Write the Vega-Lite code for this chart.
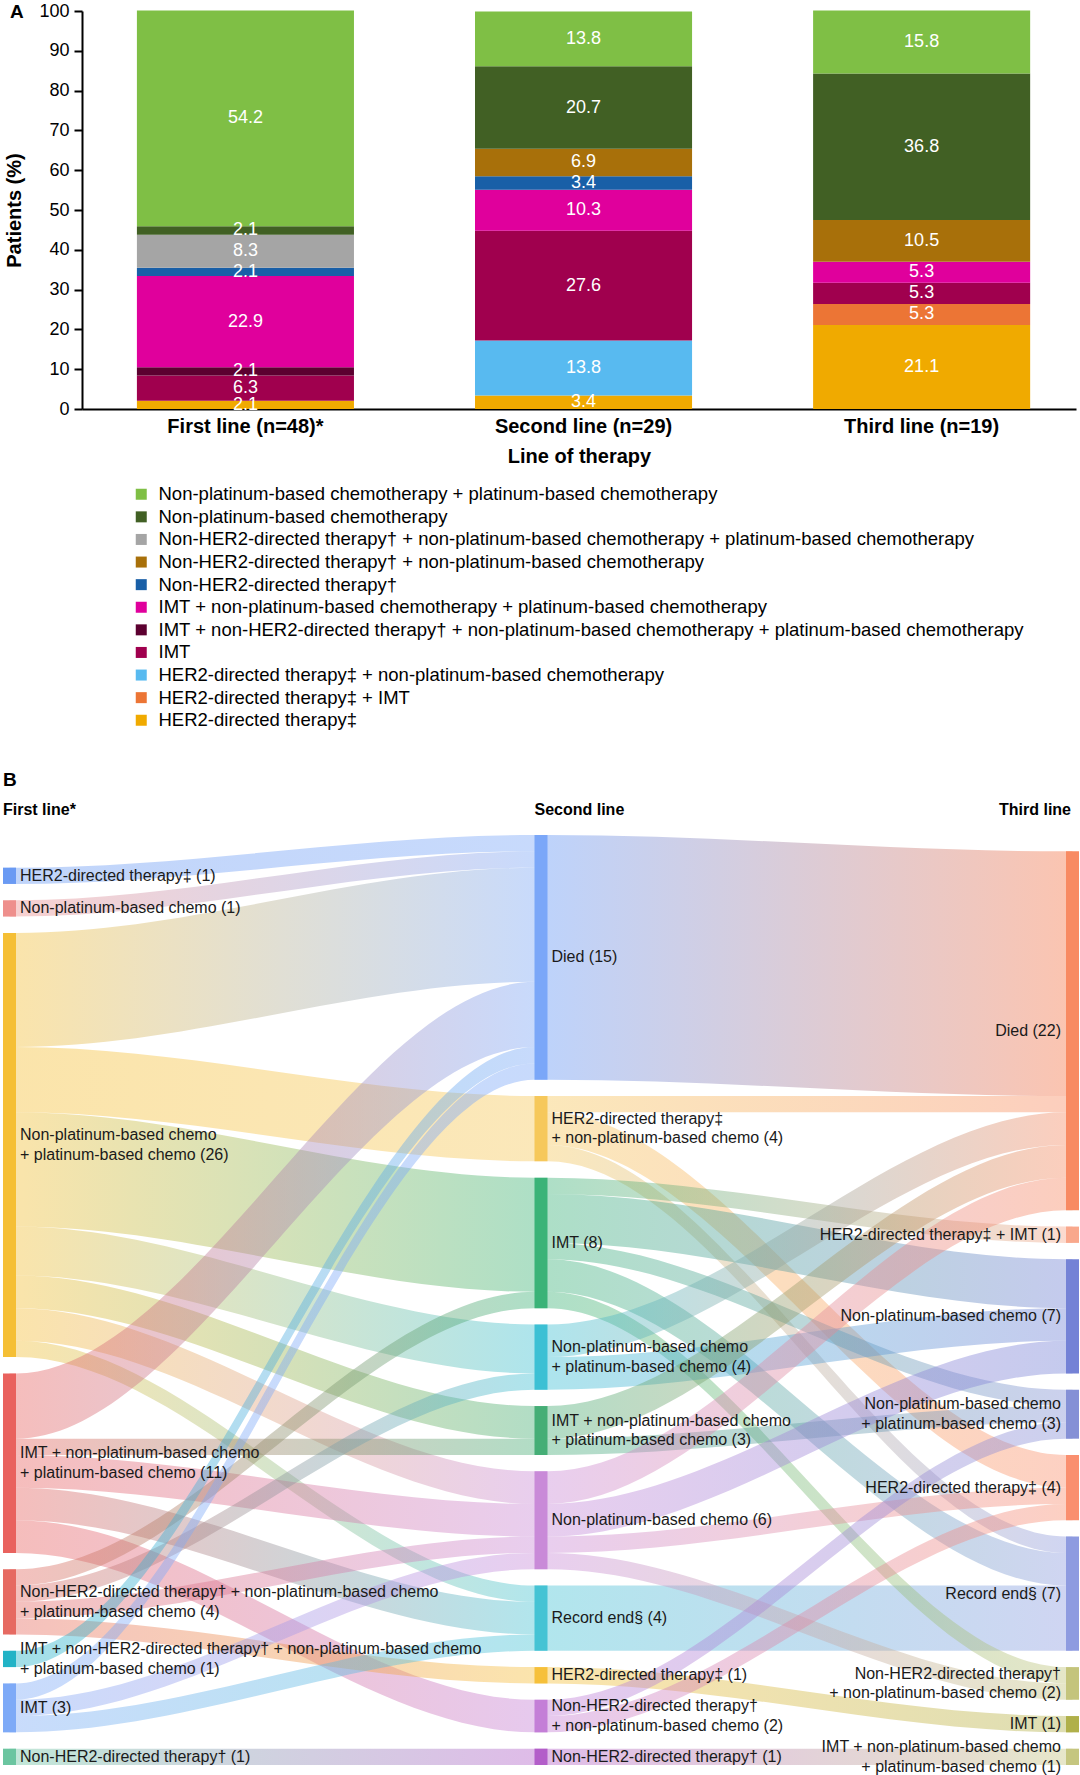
{
"$schema":"https://vega.github.io/schema/vega-lite/v6.json",
"padding":{"left":2,"top":2,"right":0,"bottom":0},
"background":"white",
"config":{"view":{"stroke":null},"font":"Liberation Sans"},
"spacing":40,
"resolve":{"scale":{"color":"independent","x":"independent","y":"independent"}},
"datasets":{
"bars":[
{"line":"First line (n=48)*","cat":"HER2-directed therapy‡","pct":2.1,"ord":11},
{"line":"First line (n=48)*","cat":"IMT","pct":6.3,"ord":8},
{"line":"First line (n=48)*","cat":"IMT + non-HER2-directed therapy† + non-platinum-based chemotherapy + platinum-based chemotherapy","pct":2.1,"ord":7},
{"line":"First line (n=48)*","cat":"IMT + non-platinum-based chemotherapy + platinum-based chemotherapy","pct":22.9,"ord":6},
{"line":"First line (n=48)*","cat":"Non-HER2-directed therapy†","pct":2.1,"ord":5},
{"line":"First line (n=48)*","cat":"Non-HER2-directed therapy† + non-platinum-based chemotherapy + platinum-based chemotherapy","pct":8.3,"ord":3},
{"line":"First line (n=48)*","cat":"Non-platinum-based chemotherapy","pct":2.1,"ord":2},
{"line":"First line (n=48)*","cat":"Non-platinum-based chemotherapy + platinum-based chemotherapy","pct":54.2,"ord":1},
{"line":"Second line (n=29)","cat":"HER2-directed therapy‡","pct":3.4,"ord":11},
{"line":"Second line (n=29)","cat":"HER2-directed therapy‡ + non-platinum-based chemotherapy","pct":13.8,"ord":9},
{"line":"Second line (n=29)","cat":"IMT","pct":27.6,"ord":8},
{"line":"Second line (n=29)","cat":"IMT + non-platinum-based chemotherapy + platinum-based chemotherapy","pct":10.3,"ord":6},
{"line":"Second line (n=29)","cat":"Non-HER2-directed therapy†","pct":3.4,"ord":5},
{"line":"Second line (n=29)","cat":"Non-HER2-directed therapy† + non-platinum-based chemotherapy","pct":6.9,"ord":4},
{"line":"Second line (n=29)","cat":"Non-platinum-based chemotherapy","pct":20.7,"ord":2},
{"line":"Second line (n=29)","cat":"Non-platinum-based chemotherapy + platinum-based chemotherapy","pct":13.8,"ord":1},
{"line":"Third line (n=19)","cat":"HER2-directed therapy‡","pct":21.1,"ord":11},
{"line":"Third line (n=19)","cat":"HER2-directed therapy‡ + IMT","pct":5.3,"ord":10},
{"line":"Third line (n=19)","cat":"IMT","pct":5.3,"ord":8},
{"line":"Third line (n=19)","cat":"IMT + non-platinum-based chemotherapy + platinum-based chemotherapy","pct":5.3,"ord":6},
{"line":"Third line (n=19)","cat":"Non-HER2-directed therapy† + non-platinum-based chemotherapy","pct":10.5,"ord":4},
{"line":"Third line (n=19)","cat":"Non-platinum-based chemotherapy","pct":36.8,"ord":2},
{"line":"Third line (n=19)","cat":"Non-platinum-based chemotherapy + platinum-based chemotherapy","pct":15.8,"ord":1}
],
"nodes":[
{"stage":0,"node":"pad","n":2,"ord":0,"l0":"","l1":"","l2":""},
{"stage":0,"node":"A1","n":1,"ord":1,"l0":"HER2-directed therapy‡ (1)","l1":"","l2":""},
{"stage":0,"node":"gap","n":1,"ord":2,"l0":"","l1":"","l2":""},
{"stage":0,"node":"A2","n":1,"ord":3,"l0":"Non-platinum-based chemo (1)","l1":"","l2":""},
{"stage":0,"node":"gap","n":1,"ord":4,"l0":"","l1":"","l2":""},
{"stage":0,"node":"A3","n":26,"ord":5,"l0":"","l1":"Non-platinum-based chemo","l2":"+ platinum-based chemo (26)"},
{"stage":0,"node":"gap","n":1,"ord":6,"l0":"","l1":"","l2":""},
{"stage":0,"node":"A4","n":11,"ord":7,"l0":"","l1":"IMT + non-platinum-based chemo","l2":"+ platinum-based chemo (11)"},
{"stage":0,"node":"gap","n":1,"ord":8,"l0":"","l1":"","l2":""},
{"stage":0,"node":"A5","n":4,"ord":9,"l0":"","l1":"Non-HER2-directed therapy† + non-platinum-based chemo","l2":"+ platinum-based chemo (4)"},
{"stage":0,"node":"gap","n":1,"ord":10,"l0":"","l1":"","l2":""},
{"stage":0,"node":"A6","n":1,"ord":11,"l0":"","l1":"IMT + non-HER2-directed therapy† + non-platinum-based chemo","l2":"+ platinum-based chemo (1)"},
{"stage":0,"node":"gap","n":1,"ord":12,"l0":"","l1":"","l2":""},
{"stage":0,"node":"A7","n":3,"ord":13,"l0":"IMT (3)","l1":"","l2":""},
{"stage":0,"node":"gap","n":1,"ord":14,"l0":"","l1":"","l2":""},
{"stage":0,"node":"A8","n":1,"ord":15,"l0":"Non-HER2-directed therapy† (1)","l1":"","l2":""},
{"stage":1,"node":"B1","n":15,"ord":1,"l0":"Died (15)","l1":"","l2":""},
{"stage":1,"node":"gap","n":1,"ord":2,"l0":"","l1":"","l2":""},
{"stage":1,"node":"B2","n":4,"ord":3,"l0":"","l1":"HER2-directed therapy‡","l2":"+ non-platinum-based chemo (4)"},
{"stage":1,"node":"gap","n":1,"ord":4,"l0":"","l1":"","l2":""},
{"stage":1,"node":"B3","n":8,"ord":5,"l0":"IMT (8)","l1":"","l2":""},
{"stage":1,"node":"gap","n":1,"ord":6,"l0":"","l1":"","l2":""},
{"stage":1,"node":"B4","n":4,"ord":7,"l0":"","l1":"Non-platinum-based chemo","l2":"+ platinum-based chemo (4)"},
{"stage":1,"node":"gap","n":1,"ord":8,"l0":"","l1":"","l2":""},
{"stage":1,"node":"B5","n":3,"ord":9,"l0":"","l1":"IMT + non-platinum-based chemo","l2":"+ platinum-based chemo (3)"},
{"stage":1,"node":"gap","n":1,"ord":10,"l0":"","l1":"","l2":""},
{"stage":1,"node":"B6","n":6,"ord":11,"l0":"Non-platinum-based chemo (6)","l1":"","l2":""},
{"stage":1,"node":"gap","n":1,"ord":12,"l0":"","l1":"","l2":""},
{"stage":1,"node":"B7","n":4,"ord":13,"l0":"Record end§ (4)","l1":"","l2":""},
{"stage":1,"node":"gap","n":1,"ord":14,"l0":"","l1":"","l2":""},
{"stage":1,"node":"B8","n":1,"ord":15,"l0":"HER2-directed therapy‡ (1)","l1":"","l2":""},
{"stage":1,"node":"gap","n":1,"ord":16,"l0":"","l1":"","l2":""},
{"stage":1,"node":"B9","n":2,"ord":17,"l0":"","l1":"Non-HER2-directed therapy†","l2":"+ non-platinum-based chemo (2)"},
{"stage":1,"node":"gap","n":1,"ord":18,"l0":"","l1":"","l2":""},
{"stage":1,"node":"B10","n":1,"ord":19,"l0":"Non-HER2-directed therapy† (1)","l1":"","l2":""},
{"stage":2,"node":"pad","n":1,"ord":0,"l0":"","l1":"","l2":""},
{"stage":2,"node":"C1","n":22,"ord":1,"l0":"Died (22)","l1":"","l2":""},
{"stage":2,"node":"gap","n":1,"ord":2,"l0":"","l1":"","l2":""},
{"stage":2,"node":"C2","n":1,"ord":3,"l0":"HER2-directed therapy‡ + IMT (1)","l1":"","l2":""},
{"stage":2,"node":"gap","n":1,"ord":4,"l0":"","l1":"","l2":""},
{"stage":2,"node":"C3","n":7,"ord":5,"l0":"Non-platinum-based chemo (7)","l1":"","l2":""},
{"stage":2,"node":"gap","n":1,"ord":6,"l0":"","l1":"","l2":""},
{"stage":2,"node":"C4","n":3,"ord":7,"l0":"","l1":"Non-platinum-based chemo","l2":"+ platinum-based chemo (3)"},
{"stage":2,"node":"gap","n":1,"ord":8,"l0":"","l1":"","l2":""},
{"stage":2,"node":"C5","n":4,"ord":9,"l0":"HER2-directed therapy‡ (4)","l1":"","l2":""},
{"stage":2,"node":"gap","n":1,"ord":10,"l0":"","l1":"","l2":""},
{"stage":2,"node":"C6","n":7,"ord":11,"l0":"Record end§ (7)","l1":"","l2":""},
{"stage":2,"node":"gap","n":1,"ord":12,"l0":"","l1":"","l2":""},
{"stage":2,"node":"C7","n":2,"ord":13,"l0":"","l1":"Non-HER2-directed therapy†","l2":"+ non-platinum-based chemo (2)"},
{"stage":2,"node":"gap","n":1,"ord":14,"l0":"","l1":"","l2":""},
{"stage":2,"node":"C8","n":1,"ord":15,"l0":"IMT (1)","l1":"","l2":""},
{"stage":2,"node":"gap","n":1,"ord":16,"l0":"","l1":"","l2":""},
{"stage":2,"node":"C9","n":1,"ord":17,"l0":"","l1":"IMT + non-platinum-based chemo","l2":"+ platinum-based chemo (1)"}
],
"heads":[
{"stage":0,"h":"First line*"},
{"stage":1,"h":"Second line"},
{"stage":2,"h":"Third line"}
],
"links":[
{"link":"A1B1","x":0,"top":2,"bot":3},{"link":"A1B1","x":0.0122,"top":2,"bot":3},{"link":"A1B1","x":0.9878,"top":0,"bot":1},{"link":"A1B1","x":1,"top":0,"bot":1},
{"link":"A2B1","x":0,"top":4,"bot":5},{"link":"A2B1","x":0.0122,"top":4,"bot":5},{"link":"A2B1","x":0.9878,"top":1,"bot":2},{"link":"A2B1","x":1,"top":1,"bot":2},
{"link":"A3B1","x":0,"top":6,"bot":13},{"link":"A3B1","x":0.0122,"top":6,"bot":13},{"link":"A3B1","x":0.9878,"top":2,"bot":9},{"link":"A3B1","x":1,"top":2,"bot":9},
{"link":"A3B2","x":0,"top":13,"bot":17},{"link":"A3B2","x":0.0122,"top":13,"bot":17},{"link":"A3B2","x":0.9878,"top":16,"bot":20},{"link":"A3B2","x":1,"top":16,"bot":20},
{"link":"A3B3","x":0,"top":17,"bot":24},{"link":"A3B3","x":0.0122,"top":17,"bot":24},{"link":"A3B3","x":0.9878,"top":21,"bot":28},{"link":"A3B3","x":1,"top":21,"bot":28},
{"link":"A3B4","x":0,"top":24,"bot":27},{"link":"A3B4","x":0.0122,"top":24,"bot":27},{"link":"A3B4","x":0.9878,"top":30,"bot":33},{"link":"A3B4","x":1,"top":30,"bot":33},
{"link":"A3B5","x":0,"top":27,"bot":29},{"link":"A3B5","x":0.0122,"top":27,"bot":29},{"link":"A3B5","x":0.9878,"top":35,"bot":37},{"link":"A3B5","x":1,"top":35,"bot":37},
{"link":"A3B6","x":0,"top":29,"bot":31},{"link":"A3B6","x":0.0122,"top":29,"bot":31},{"link":"A3B6","x":0.9878,"top":39,"bot":41},{"link":"A3B6","x":1,"top":39,"bot":41},
{"link":"A3B7","x":0,"top":31,"bot":32},{"link":"A3B7","x":0.0122,"top":31,"bot":32},{"link":"A3B7","x":0.9878,"top":46,"bot":47},{"link":"A3B7","x":1,"top":46,"bot":47},
{"link":"A4B1","x":0,"top":33,"bot":37},{"link":"A4B1","x":0.0122,"top":33,"bot":37},{"link":"A4B1","x":0.9878,"top":9,"bot":13},{"link":"A4B1","x":1,"top":9,"bot":13},
{"link":"A4B5","x":0,"top":37,"bot":38},{"link":"A4B5","x":0.0122,"top":37,"bot":38},{"link":"A4B5","x":0.9878,"top":37,"bot":38},{"link":"A4B5","x":1,"top":37,"bot":38},
{"link":"A4B6","x":0,"top":38,"bot":40},{"link":"A4B6","x":0.0122,"top":38,"bot":40},{"link":"A4B6","x":0.9878,"top":41,"bot":43},{"link":"A4B6","x":1,"top":41,"bot":43},
{"link":"A4B7","x":0,"top":40,"bot":42},{"link":"A4B7","x":0.0122,"top":40,"bot":42},{"link":"A4B7","x":0.9878,"top":47,"bot":49},{"link":"A4B7","x":1,"top":47,"bot":49},
{"link":"A4B9","x":0,"top":42,"bot":44},{"link":"A4B9","x":0.0122,"top":42,"bot":44},{"link":"A4B9","x":0.9878,"top":53,"bot":55},{"link":"A4B9","x":1,"top":53,"bot":55},
{"link":"A5B3","x":0,"top":45,"bot":46},{"link":"A5B3","x":0.0122,"top":45,"bot":46},{"link":"A5B3","x":0.9878,"top":28,"bot":29},{"link":"A5B3","x":1,"top":28,"bot":29},
{"link":"A5B4","x":0,"top":46,"bot":47},{"link":"A5B4","x":0.0122,"top":46,"bot":47},{"link":"A5B4","x":0.9878,"top":33,"bot":34},{"link":"A5B4","x":1,"top":33,"bot":34},
{"link":"A5B6","x":0,"top":47,"bot":48},{"link":"A5B6","x":0.0122,"top":47,"bot":48},{"link":"A5B6","x":0.9878,"top":43,"bot":44},{"link":"A5B6","x":1,"top":43,"bot":44},
{"link":"A5B8","x":0,"top":48,"bot":49},{"link":"A5B8","x":0.0122,"top":48,"bot":49},{"link":"A5B8","x":0.9878,"top":51,"bot":52},{"link":"A5B8","x":1,"top":51,"bot":52},
{"link":"A6B1","x":0,"top":50,"bot":51},{"link":"A6B1","x":0.0122,"top":50,"bot":51},{"link":"A6B1","x":0.9878,"top":13,"bot":14},{"link":"A6B1","x":1,"top":13,"bot":14},
{"link":"A7B1","x":0,"top":52,"bot":53},{"link":"A7B1","x":0.0122,"top":52,"bot":53},{"link":"A7B1","x":0.9878,"top":14,"bot":15},{"link":"A7B1","x":1,"top":14,"bot":15},
{"link":"A7B6","x":0,"top":53,"bot":54},{"link":"A7B6","x":0.0122,"top":53,"bot":54},{"link":"A7B6","x":0.9878,"top":44,"bot":45},{"link":"A7B6","x":1,"top":44,"bot":45},
{"link":"A7B7","x":0,"top":54,"bot":55},{"link":"A7B7","x":0.0122,"top":54,"bot":55},{"link":"A7B7","x":0.9878,"top":49,"bot":50},{"link":"A7B7","x":1,"top":49,"bot":50},
{"link":"A8B10","x":0,"top":56,"bot":57},{"link":"A8B10","x":0.0122,"top":56,"bot":57},{"link":"A8B10","x":0.9878,"top":56,"bot":57},{"link":"A8B10","x":1,"top":56,"bot":57},
{"link":"B1C1","x":1,"top":0,"bot":15},{"link":"B1C1","x":1.0122,"top":0,"bot":15},{"link":"B1C1","x":1.9878,"top":1,"bot":16},{"link":"B1C1","x":2,"top":1,"bot":16},
{"link":"B2C1","x":1,"top":16,"bot":17},{"link":"B2C1","x":1.0122,"top":16,"bot":17},{"link":"B2C1","x":1.9878,"top":16,"bot":17},{"link":"B2C1","x":2,"top":16,"bot":17},
{"link":"B2C5","x":1,"top":17,"bot":19},{"link":"B2C5","x":1.0122,"top":17,"bot":19},{"link":"B2C5","x":1.9878,"top":38,"bot":40},{"link":"B2C5","x":2,"top":38,"bot":40},
{"link":"B2C6","x":1,"top":19,"bot":20},{"link":"B2C6","x":1.0122,"top":19,"bot":20},{"link":"B2C6","x":1.9878,"top":43,"bot":44},{"link":"B2C6","x":2,"top":43,"bot":44},
{"link":"B3C2","x":1,"top":21,"bot":22},{"link":"B3C2","x":1.0122,"top":21,"bot":22},{"link":"B3C2","x":1.9878,"top":24,"bot":25},{"link":"B3C2","x":2,"top":24,"bot":25},
{"link":"B3C3","x":1,"top":22,"bot":25},{"link":"B3C3","x":1.0122,"top":22,"bot":25},{"link":"B3C3","x":1.9878,"top":26,"bot":29},{"link":"B3C3","x":2,"top":26,"bot":29},
{"link":"B3C4","x":1,"top":25,"bot":26},{"link":"B3C4","x":1.0122,"top":25,"bot":26},{"link":"B3C4","x":1.9878,"top":34,"bot":35},{"link":"B3C4","x":2,"top":34,"bot":35},
{"link":"B3C6","x":1,"top":26,"bot":28},{"link":"B3C6","x":1.0122,"top":26,"bot":28},{"link":"B3C6","x":1.9878,"top":44,"bot":46},{"link":"B3C6","x":2,"top":44,"bot":46},
{"link":"B3C7","x":1,"top":28,"bot":29},{"link":"B3C7","x":1.0122,"top":28,"bot":29},{"link":"B3C7","x":1.9878,"top":51,"bot":52},{"link":"B3C7","x":2,"top":51,"bot":52},
{"link":"B4C1","x":1,"top":30,"bot":32},{"link":"B4C1","x":1.0122,"top":30,"bot":32},{"link":"B4C1","x":1.9878,"top":17,"bot":19},{"link":"B4C1","x":2,"top":17,"bot":19},
{"link":"B4C3","x":1,"top":32,"bot":34},{"link":"B4C3","x":1.0122,"top":32,"bot":34},{"link":"B4C3","x":1.9878,"top":29,"bot":31},{"link":"B4C3","x":2,"top":29,"bot":31},
{"link":"B5C1","x":1,"top":35,"bot":37},{"link":"B5C1","x":1.0122,"top":35,"bot":37},{"link":"B5C1","x":1.9878,"top":19,"bot":21},{"link":"B5C1","x":2,"top":19,"bot":21},
{"link":"B5C4","x":1,"top":37,"bot":38},{"link":"B5C4","x":1.0122,"top":37,"bot":38},{"link":"B5C4","x":1.9878,"top":35,"bot":36},{"link":"B5C4","x":2,"top":35,"bot":36},
{"link":"B6C1","x":1,"top":39,"bot":41},{"link":"B6C1","x":1.0122,"top":39,"bot":41},{"link":"B6C1","x":1.9878,"top":21,"bot":23},{"link":"B6C1","x":2,"top":21,"bot":23},
{"link":"B6C3","x":1,"top":41,"bot":43},{"link":"B6C3","x":1.0122,"top":41,"bot":43},{"link":"B6C3","x":1.9878,"top":31,"bot":33},{"link":"B6C3","x":2,"top":31,"bot":33},
{"link":"B6C5","x":1,"top":43,"bot":44},{"link":"B6C5","x":1.0122,"top":43,"bot":44},{"link":"B6C5","x":1.9878,"top":40,"bot":41},{"link":"B6C5","x":2,"top":40,"bot":41},
{"link":"B6C7","x":1,"top":44,"bot":45},{"link":"B6C7","x":1.0122,"top":44,"bot":45},{"link":"B6C7","x":1.9878,"top":52,"bot":53},{"link":"B6C7","x":2,"top":52,"bot":53},
{"link":"B7C6","x":1,"top":46,"bot":50},{"link":"B7C6","x":1.0122,"top":46,"bot":50},{"link":"B7C6","x":1.9878,"top":46,"bot":50},{"link":"B7C6","x":2,"top":46,"bot":50},
{"link":"B8C8","x":1,"top":51,"bot":52},{"link":"B8C8","x":1.0122,"top":51,"bot":52},{"link":"B8C8","x":1.9878,"top":54,"bot":55},{"link":"B8C8","x":2,"top":54,"bot":55},
{"link":"B9C4","x":1,"top":53,"bot":54},{"link":"B9C4","x":1.0122,"top":53,"bot":54},{"link":"B9C4","x":1.9878,"top":36,"bot":37},{"link":"B9C4","x":2,"top":36,"bot":37},
{"link":"B9C5","x":1,"top":54,"bot":55},{"link":"B9C5","x":1.0122,"top":54,"bot":55},{"link":"B9C5","x":1.9878,"top":41,"bot":42},{"link":"B9C5","x":2,"top":41,"bot":42},
{"link":"B10C9","x":1,"top":56,"bot":57},{"link":"B10C9","x":1.0122,"top":56,"bot":57},{"link":"B10C9","x":1.9878,"top":56,"bot":57},{"link":"B10C9","x":2,"top":56,"bot":57}
]
},
"vconcat":[
{
"width":994,"height":398,
"title":{"text":"A","anchor":"start","frame":"bounds","fontSize":19,"fontWeight":"bold","color":"#000","offset":-20,"dx":5},
"data":{"name":"bars"},
"encoding":{
"x":{"field":"line","type":"nominal","sort":["First line (n=48)*","Second line (n=29)","Third line (n=19)"],"scale":{"paddingInner":0.358,"paddingOuter":0.149,"align":0.545},
"axis":{"title":"Line of therapy","labelAngle":0,"ticks":false,"domainColor":"#000","domainWidth":2,"labelFontSize":20,"labelFontWeight":"bold","labelColor":"#000","labelPadding":7,"titleFontSize":20,"titleFontWeight":"bold","titleColor":"#000","titlePadding":10}},
"y":{"field":"pct","type":"quantitative","stack":"zero","scale":{"domain":[0,100]},
"axis":{"title":"Patients (%)","values":[0,10,20,30,40,50,60,70,80,90,100],"grid":false,"tickColor":"#000","tickSize":8,"tickWidth":2,"domainColor":"#000","domainWidth":2,"labelFontSize":18,"labelColor":"#000","labelPadding":5,"titleFontSize":20,"titleFontWeight":"bold","titleColor":"#000","titlePadding":14}},
"order":{"field":"ord","type":"quantitative","sort":"descending"}
},
"layer":[
{"mark":{"type":"bar"},
"encoding":{"color":{"field":"cat","type":"nominal",
"scale":{"domain":["Non-platinum-based chemotherapy + platinum-based chemotherapy","Non-platinum-based chemotherapy","Non-HER2-directed therapy† + non-platinum-based chemotherapy + platinum-based chemotherapy","Non-HER2-directed therapy† + non-platinum-based chemotherapy","Non-HER2-directed therapy†","IMT + non-platinum-based chemotherapy + platinum-based chemotherapy","IMT + non-HER2-directed therapy† + non-platinum-based chemotherapy + platinum-based chemotherapy","IMT","HER2-directed therapy‡ + non-platinum-based chemotherapy","HER2-directed therapy‡ + IMT","HER2-directed therapy‡"],
"range":["#7fbf45","#416024","#a5a5a5","#a8700a","#195fa7","#e0009c","#5c0030","#a0004e","#58baf0","#ec7535","#f0aa00"]},
"legend":{"title":null,"orient":"none","legendX":50,"legendY":474,"direction":"vertical","symbolType":"square","symbolSize":121,"symbolStrokeWidth":0,"symbolOpacity":1,"labelFontSize":18.5,"labelColor":"#000","labelLimit":1000,"labelOffset":8,"rowPadding":3.6,"padding":0}}}},
{"mark":{"type":"text","color":"#ffffff","fontSize":18,"baseline":"middle"},
"encoding":{"y":{"field":"pct","type":"quantitative","stack":"zero","bandPosition":0.5},"text":{"field":"pct","type":"quantitative","format":".1f"}}}
]
},
{
"width":994,"height":930,
"title":{"text":"B","anchor":"start","frame":"bounds","fontSize":19,"fontWeight":"bold","color":"#000","offset":12},
"layer":[
{"data":{"name":"links"},
"encoding":{
"x":{"field":"x","type":"quantitative","scale":{"domain":[0.13641,2.00659],"nice":false,"zero":false,"padding":0},"axis":null},
"y":{"field":"top","type":"quantitative","scale":{"domain":[0,57],"reverse":true,"nice":false,"zero":false,"padding":0},"axis":null},
"y2":{"field":"bot"}},
"layer":[
{"transform":[{"filter":"datum.link==='B1C1'"}],"mark":{"type":"area","interpolate":"monotone","fillOpacity":0.5,"fill":{"gradient":"linear","stops":[{"offset":0,"color":"#7ba7f8"},{"offset":1,"color":"#f88a62"}]}}},
{"transform":[{"filter":"datum.link==='B7C6'"}],"mark":{"type":"area","interpolate":"monotone","fillOpacity":0.42,"fill":{"gradient":"linear","stops":[{"offset":0,"color":"#45c3d4"},{"offset":1,"color":"#8e9be0"}]}}},
{"transform":[{"filter":"datum.link==='A1B1'"}],"mark":{"type":"area","interpolate":"monotone","fillOpacity":0.42,"fill":{"gradient":"linear","stops":[{"offset":0,"color":"#6a9af3"},{"offset":1,"color":"#7ba7f8"}]}}},
{"transform":[{"filter":"datum.link==='A2B1'"}],"mark":{"type":"area","interpolate":"monotone","fillOpacity":0.42,"fill":{"gradient":"linear","stops":[{"offset":0,"color":"#ee8f8c"},{"offset":1,"color":"#7ba7f8"}]}}},
{"transform":[{"filter":"datum.link==='A3B1'"}],"mark":{"type":"area","interpolate":"monotone","fillOpacity":0.42,"fill":{"gradient":"linear","stops":[{"offset":0,"color":"#f5bf35"},{"offset":1,"color":"#7ba7f8"}]}}},
{"transform":[{"filter":"datum.link==='A3B2'"}],"mark":{"type":"area","interpolate":"monotone","fillOpacity":0.42,"fill":{"gradient":"linear","stops":[{"offset":0,"color":"#f5bf35"},{"offset":1,"color":"#f6c85b"}]}}},
{"transform":[{"filter":"datum.link==='A3B3'"}],"mark":{"type":"area","interpolate":"monotone","fillOpacity":0.42,"fill":{"gradient":"linear","stops":[{"offset":0,"color":"#f5bf35"},{"offset":1,"color":"#3bb378"}]}}},
{"transform":[{"filter":"datum.link==='A3B4'"}],"mark":{"type":"area","interpolate":"monotone","fillOpacity":0.42,"fill":{"gradient":"linear","stops":[{"offset":0,"color":"#f5bf35"},{"offset":1,"color":"#3cc0d4"}]}}},
{"transform":[{"filter":"datum.link==='A3B5'"}],"mark":{"type":"area","interpolate":"monotone","fillOpacity":0.42,"fill":{"gradient":"linear","stops":[{"offset":0,"color":"#f5bf35"},{"offset":1,"color":"#45ae76"}]}}},
{"transform":[{"filter":"datum.link==='A3B6'"}],"mark":{"type":"area","interpolate":"monotone","fillOpacity":0.42,"fill":{"gradient":"linear","stops":[{"offset":0,"color":"#f5bf35"},{"offset":1,"color":"#c98ad8"}]}}},
{"transform":[{"filter":"datum.link==='A3B7'"}],"mark":{"type":"area","interpolate":"monotone","fillOpacity":0.42,"fill":{"gradient":"linear","stops":[{"offset":0,"color":"#f5bf35"},{"offset":1,"color":"#45c3d4"}]}}},
{"transform":[{"filter":"datum.link==='A4B1'"}],"mark":{"type":"area","interpolate":"monotone","fillOpacity":0.42,"fill":{"gradient":"linear","stops":[{"offset":0,"color":"#e9625e"},{"offset":1,"color":"#7ba7f8"}]}}},
{"transform":[{"filter":"datum.link==='A4B5'"}],"mark":{"type":"area","interpolate":"monotone","fillOpacity":0.42,"fill":{"gradient":"linear","stops":[{"offset":0,"color":"#e9625e"},{"offset":1,"color":"#45ae76"}]}}},
{"transform":[{"filter":"datum.link==='A4B6'"}],"mark":{"type":"area","interpolate":"monotone","fillOpacity":0.42,"fill":{"gradient":"linear","stops":[{"offset":0,"color":"#e9625e"},{"offset":1,"color":"#c98ad8"}]}}},
{"transform":[{"filter":"datum.link==='A4B7'"}],"mark":{"type":"area","interpolate":"monotone","fillOpacity":0.42,"fill":{"gradient":"linear","stops":[{"offset":0,"color":"#e9625e"},{"offset":1,"color":"#45c3d4"}]}}},
{"transform":[{"filter":"datum.link==='A4B9'"}],"mark":{"type":"area","interpolate":"monotone","fillOpacity":0.42,"fill":{"gradient":"linear","stops":[{"offset":0,"color":"#e9625e"},{"offset":1,"color":"#c47fd7"}]}}},
{"transform":[{"filter":"datum.link==='A5B3'"}],"mark":{"type":"area","interpolate":"monotone","fillOpacity":0.42,"fill":{"gradient":"linear","stops":[{"offset":0,"color":"#e66a62"},{"offset":1,"color":"#3bb378"}]}}},
{"transform":[{"filter":"datum.link==='A5B4'"}],"mark":{"type":"area","interpolate":"monotone","fillOpacity":0.42,"fill":{"gradient":"linear","stops":[{"offset":0,"color":"#e66a62"},{"offset":1,"color":"#3cc0d4"}]}}},
{"transform":[{"filter":"datum.link==='A5B6'"}],"mark":{"type":"area","interpolate":"monotone","fillOpacity":0.42,"fill":{"gradient":"linear","stops":[{"offset":0,"color":"#e66a62"},{"offset":1,"color":"#c98ad8"}]}}},
{"transform":[{"filter":"datum.link==='A5B8'"}],"mark":{"type":"area","interpolate":"monotone","fillOpacity":0.42,"fill":{"gradient":"linear","stops":[{"offset":0,"color":"#e66a62"},{"offset":1,"color":"#f6c03a"}]}}},
{"transform":[{"filter":"datum.link==='A6B1'"}],"mark":{"type":"area","interpolate":"monotone","fillOpacity":0.42,"fill":{"gradient":"linear","stops":[{"offset":0,"color":"#22b3c6"},{"offset":1,"color":"#7ba7f8"}]}}},
{"transform":[{"filter":"datum.link==='A7B1'"}],"mark":{"type":"area","interpolate":"monotone","fillOpacity":0.42,"fill":{"gradient":"linear","stops":[{"offset":0,"color":"#7eaaf7"},{"offset":1,"color":"#7ba7f8"}]}}},
{"transform":[{"filter":"datum.link==='A7B6'"}],"mark":{"type":"area","interpolate":"monotone","fillOpacity":0.42,"fill":{"gradient":"linear","stops":[{"offset":0,"color":"#7eaaf7"},{"offset":1,"color":"#c98ad8"}]}}},
{"transform":[{"filter":"datum.link==='A7B7'"}],"mark":{"type":"area","interpolate":"monotone","fillOpacity":0.42,"fill":{"gradient":"linear","stops":[{"offset":0,"color":"#7eaaf7"},{"offset":1,"color":"#45c3d4"}]}}},
{"transform":[{"filter":"datum.link==='A8B10'"}],"mark":{"type":"area","interpolate":"monotone","fillOpacity":0.42,"fill":{"gradient":"linear","stops":[{"offset":0,"color":"#6bc5a0"},{"offset":1,"color":"#b35ec9"}]}}},
{"transform":[{"filter":"datum.link==='B2C1'"}],"mark":{"type":"area","interpolate":"monotone","fillOpacity":0.42,"fill":{"gradient":"linear","stops":[{"offset":0,"color":"#f6c85b"},{"offset":1,"color":"#f88a62"}]}}},
{"transform":[{"filter":"datum.link==='B2C5'"}],"mark":{"type":"area","interpolate":"monotone","fillOpacity":0.42,"fill":{"gradient":"linear","stops":[{"offset":0,"color":"#f6c85b"},{"offset":1,"color":"#fa8f6f"}]}}},
{"transform":[{"filter":"datum.link==='B2C6'"}],"mark":{"type":"area","interpolate":"monotone","fillOpacity":0.42,"fill":{"gradient":"linear","stops":[{"offset":0,"color":"#f6c85b"},{"offset":1,"color":"#8e9be0"}]}}},
{"transform":[{"filter":"datum.link==='B3C2'"}],"mark":{"type":"area","interpolate":"monotone","fillOpacity":0.42,"fill":{"gradient":"linear","stops":[{"offset":0,"color":"#3bb378"},{"offset":1,"color":"#f9a88c"}]}}},
{"transform":[{"filter":"datum.link==='B3C3'"}],"mark":{"type":"area","interpolate":"monotone","fillOpacity":0.42,"fill":{"gradient":"linear","stops":[{"offset":0,"color":"#3bb378"},{"offset":1,"color":"#7482d6"}]}}},
{"transform":[{"filter":"datum.link==='B3C4'"}],"mark":{"type":"area","interpolate":"monotone","fillOpacity":0.42,"fill":{"gradient":"linear","stops":[{"offset":0,"color":"#3bb378"},{"offset":1,"color":"#8590d6"}]}}},
{"transform":[{"filter":"datum.link==='B3C6'"}],"mark":{"type":"area","interpolate":"monotone","fillOpacity":0.42,"fill":{"gradient":"linear","stops":[{"offset":0,"color":"#3bb378"},{"offset":1,"color":"#8e9be0"}]}}},
{"transform":[{"filter":"datum.link==='B3C7'"}],"mark":{"type":"area","interpolate":"monotone","fillOpacity":0.42,"fill":{"gradient":"linear","stops":[{"offset":0,"color":"#3bb378"},{"offset":1,"color":"#c4c47c"}]}}},
{"transform":[{"filter":"datum.link==='B4C1'"}],"mark":{"type":"area","interpolate":"monotone","fillOpacity":0.42,"fill":{"gradient":"linear","stops":[{"offset":0,"color":"#3cc0d4"},{"offset":1,"color":"#f88a62"}]}}},
{"transform":[{"filter":"datum.link==='B4C3'"}],"mark":{"type":"area","interpolate":"monotone","fillOpacity":0.42,"fill":{"gradient":"linear","stops":[{"offset":0,"color":"#3cc0d4"},{"offset":1,"color":"#7482d6"}]}}},
{"transform":[{"filter":"datum.link==='B5C1'"}],"mark":{"type":"area","interpolate":"monotone","fillOpacity":0.42,"fill":{"gradient":"linear","stops":[{"offset":0,"color":"#45ae76"},{"offset":1,"color":"#f88a62"}]}}},
{"transform":[{"filter":"datum.link==='B5C4'"}],"mark":{"type":"area","interpolate":"monotone","fillOpacity":0.42,"fill":{"gradient":"linear","stops":[{"offset":0,"color":"#45ae76"},{"offset":1,"color":"#8590d6"}]}}},
{"transform":[{"filter":"datum.link==='B6C1'"}],"mark":{"type":"area","interpolate":"monotone","fillOpacity":0.42,"fill":{"gradient":"linear","stops":[{"offset":0,"color":"#c98ad8"},{"offset":1,"color":"#f88a62"}]}}},
{"transform":[{"filter":"datum.link==='B6C3'"}],"mark":{"type":"area","interpolate":"monotone","fillOpacity":0.42,"fill":{"gradient":"linear","stops":[{"offset":0,"color":"#c98ad8"},{"offset":1,"color":"#7482d6"}]}}},
{"transform":[{"filter":"datum.link==='B6C5'"}],"mark":{"type":"area","interpolate":"monotone","fillOpacity":0.42,"fill":{"gradient":"linear","stops":[{"offset":0,"color":"#c98ad8"},{"offset":1,"color":"#fa8f6f"}]}}},
{"transform":[{"filter":"datum.link==='B6C7'"}],"mark":{"type":"area","interpolate":"monotone","fillOpacity":0.42,"fill":{"gradient":"linear","stops":[{"offset":0,"color":"#c98ad8"},{"offset":1,"color":"#c4c47c"}]}}},
{"transform":[{"filter":"datum.link==='B8C8'"}],"mark":{"type":"area","interpolate":"monotone","fillOpacity":0.42,"fill":{"gradient":"linear","stops":[{"offset":0,"color":"#f6c03a"},{"offset":1,"color":"#b0b04a"}]}}},
{"transform":[{"filter":"datum.link==='B9C4'"}],"mark":{"type":"area","interpolate":"monotone","fillOpacity":0.42,"fill":{"gradient":"linear","stops":[{"offset":0,"color":"#c47fd7"},{"offset":1,"color":"#8590d6"}]}}},
{"transform":[{"filter":"datum.link==='B9C5'"}],"mark":{"type":"area","interpolate":"monotone","fillOpacity":0.42,"fill":{"gradient":"linear","stops":[{"offset":0,"color":"#c47fd7"},{"offset":1,"color":"#fa8f6f"}]}}},
{"transform":[{"filter":"datum.link==='B10C9'"}],"mark":{"type":"area","interpolate":"monotone","fillOpacity":0.42,"fill":{"gradient":"linear","stops":[{"offset":0,"color":"#b35ec9"},{"offset":1,"color":"#c5c67f"}]}}}
]},
{"data":{"name":"nodes"},
"encoding":{
"x":{"field":"stage","type":"quantitative","scale":{"domain":[0.13641,2.00659],"nice":false,"zero":false,"padding":0},"axis":null},
"y":{"field":"n","type":"quantitative","stack":"zero","scale":{"domain":[0,57],"reverse":true,"nice":false,"zero":false,"padding":0},"axis":null},
"order":{"field":"ord","type":"quantitative"}},
"layer":[
{"mark":{"type":"bar","width":13},
"encoding":{"color":{"field":"node","type":"nominal","legend":null,
"scale":{"domain":["pad","gap","A1","A2","A3","A4","A5","A6","A7","A8","B1","B2","B3","B4","B5","B6","B7","B8","B9","B10","C1","C2","C3","C4","C5","C6","C7","C8","C9"],
"range":["transparent","transparent","#6a9af3","#ee8f8c","#f5bf35","#e9625e","#e66a62","#22b3c6","#7eaaf7","#6bc5a0","#7ba7f8","#f6c85b","#3bb378","#3cc0d4","#45ae76","#c98ad8","#45c3d4","#f6c03a","#c47fd7","#b35ec9","#f88a62","#f9a88c","#7482d6","#8590d6","#fa8f6f","#8e9be0","#c4c47c","#b0b04a","#c5c67f"]}}}},
{"transform":[{"filter":"datum.stage<2"}],"mark":{"type":"text","align":"left","baseline":"middle","fontSize":16,"color":"#1a1a1a","dx":10.5},
"encoding":{"y":{"field":"n","type":"quantitative","stack":"zero","bandPosition":0.5},"text":{"field":"l0"}}},
{"transform":[{"filter":"datum.stage<2"}],"mark":{"type":"text","align":"left","baseline":"middle","fontSize":16,"color":"#1a1a1a","dx":10.5,"dy":-9.75},
"encoding":{"y":{"field":"n","type":"quantitative","stack":"zero","bandPosition":0.5},"text":{"field":"l1"}}},
{"transform":[{"filter":"datum.stage<2"}],"mark":{"type":"text","align":"left","baseline":"middle","fontSize":16,"color":"#1a1a1a","dx":10.5,"dy":9.75},
"encoding":{"y":{"field":"n","type":"quantitative","stack":"zero","bandPosition":0.5},"text":{"field":"l2"}}},
{"transform":[{"filter":"datum.stage===2"}],"mark":{"type":"text","align":"right","baseline":"middle","fontSize":16,"color":"#1a1a1a","dx":-11.5},
"encoding":{"y":{"field":"n","type":"quantitative","stack":"zero","bandPosition":0.5},"text":{"field":"l0"}}},
{"transform":[{"filter":"datum.stage===2"}],"mark":{"type":"text","align":"right","baseline":"middle","fontSize":16,"color":"#1a1a1a","dx":-11.5,"dy":-9.75},
"encoding":{"y":{"field":"n","type":"quantitative","stack":"zero","bandPosition":0.5},"text":{"field":"l1"}}},
{"transform":[{"filter":"datum.stage===2"}],"mark":{"type":"text","align":"right","baseline":"middle","fontSize":16,"color":"#1a1a1a","dx":-11.5,"dy":9.75},
"encoding":{"y":{"field":"n","type":"quantitative","stack":"zero","bandPosition":0.5},"text":{"field":"l2"}}}
]},
{"data":{"name":"heads"},
"encoding":{"x":{"field":"stage","type":"quantitative","scale":{"domain":[0.13641,2.00659],"nice":false,"zero":false,"padding":0}},"y":{"datum":-1.55,"type":"quantitative"},"text":{"field":"h"}},
"layer":[
{"transform":[{"filter":"datum.stage<2"}],"mark":{"type":"text","align":"left","baseline":"middle","fontSize":16,"fontWeight":"bold","color":"#000","dx":-6.5}},
{"transform":[{"filter":"datum.stage===2"}],"mark":{"type":"text","align":"right","baseline":"middle","fontSize":16,"fontWeight":"bold","color":"#000","dx":-1.5}}
]}
]
}
]
}
